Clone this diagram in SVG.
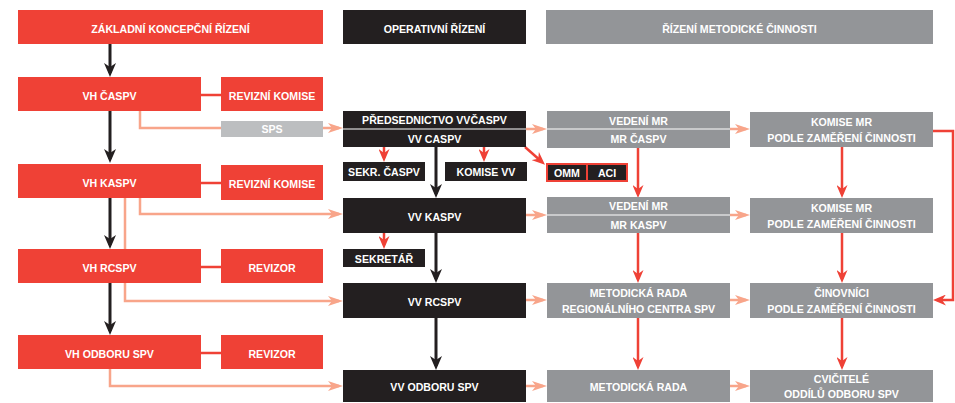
<svg xmlns="http://www.w3.org/2000/svg" width="955" height="403" viewBox="0 0 955 403">
<style>
  .r{fill:#ef4136}
  .k{fill:#231f20}
  .g{fill:#939598}
  .lg{fill:#bcbec0}
  text{font-family:"Liberation Sans",Arial,sans-serif;font-weight:bold;font-size:10.6px;fill:#fff;text-anchor:middle}
  .ck{fill:none;stroke:#231f20;stroke-width:3}
  .cr{fill:none;stroke:#ef4136;stroke-width:2.5}
  .cs{fill:none;stroke:#f8a58a;stroke-width:2.5}
  .om{fill:#231f20;stroke:#ef4136;stroke-width:2}
</style>
<defs>
  <marker id="ak" markerUnits="userSpaceOnUse" markerWidth="14" markerHeight="12" refX="10" refY="6" orient="auto"><path d="M0,0 L14,6 L0,12 L4,6 z" fill="#231f20"/></marker>
  <marker id="ar" markerUnits="userSpaceOnUse" markerWidth="13" markerHeight="11" refX="9" refY="5.5" orient="auto"><path d="M0,0 L13,5.5 L0,11 L4,5.5 z" fill="#ef4136"/></marker>
  <marker id="as" markerUnits="userSpaceOnUse" markerWidth="15" markerHeight="10" refX="11" refY="5" orient="auto"><path d="M0,0 L15,5 L0,10 L4,5 z" fill="#f8a58a"/></marker>
</defs>

<g id="connectors">
  <!-- black vertical, column 1 -->
  <path class="ck" d="M110,44 V73" marker-end="url(#ak)"/>
  <path class="ck" d="M110,111 V159" marker-end="url(#ak)"/>
  <path class="ck" d="M110,198 V245" marker-end="url(#ak)"/>
  <path class="ck" d="M110,283 V331" marker-end="url(#ak)"/>
  <!-- black vertical, column 2 -->
  <path class="ck" d="M436,147 V194" marker-end="url(#ak)"/>
  <path class="ck" d="M436,233 V279" marker-end="url(#ak)"/>
  <path class="ck" d="M436,318 V366" marker-end="url(#ak)"/>
  <!-- red links to revision boxes -->
  <path class="cr" d="M201,95 H221"/>
  <path class="cr" d="M201,183 H221"/>
  <path class="cr" d="M201,267 H221"/>
  <path class="cr" d="M201,353 H221"/>
  <!-- red short arrows -->
  <path class="cr" d="M384,147 V158" marker-end="url(#ar)"/>
  <path class="cr" d="M484,147 V158" marker-end="url(#ar)"/>
  <path class="cr" d="M384,233 V245" marker-end="url(#ar)"/>
  <path class="cr" d="M525,147 L542,162" marker-end="url(#ar)"/>
  <!-- red vertical, column 3 and 4 -->
  <path class="cr" d="M638,148 V194" marker-end="url(#ar)"/>
  <path class="cr" d="M638,233 V279" marker-end="url(#ar)"/>
  <path class="cr" d="M638,318 V366" marker-end="url(#ar)"/>
  <path class="cr" d="M842,147 V194" marker-end="url(#ar)"/>
  <path class="cr" d="M842,233 V279" marker-end="url(#ar)"/>
  <path class="cr" d="M842,318 V366" marker-end="url(#ar)"/>
  <path class="cr" d="M933,131 H953 V300 H937" marker-end="url(#ar)"/>
  <!-- salmon links -->
  <path class="cs" d="M140,111 V128 H339" marker-end="url(#as)"/>
  <path class="cs" d="M140,198 V214 H339" marker-end="url(#as)"/>
  <path class="cs" d="M125,198 V301 H339" marker-end="url(#as)"/>
  <path class="cs" d="M110,369 V386 H339" marker-end="url(#as)"/>
  <path class="cs" d="M526,129 H543" marker-end="url(#as)"/>
  <path class="cs" d="M526,215 H543" marker-end="url(#as)"/>
  <path class="cs" d="M526,300 H543" marker-end="url(#as)"/>
  <path class="cs" d="M526,386 H543" marker-end="url(#as)"/>
  <path class="cs" d="M730,129 H746" marker-end="url(#as)"/>
  <path class="cs" d="M730,215 H746" marker-end="url(#as)"/>
  <path class="cs" d="M730,300 H746" marker-end="url(#as)"/>
  <path class="cs" d="M730,386 H746" marker-end="url(#as)"/>
</g>

<!-- headers -->
<g id="h-zakladni"><rect class="r" x="18" y="10" width="305" height="34"/><text x="170.5" y="33">ZÁKLADNÍ KONCEPČNÍ ŘÍZENÍ</text></g>
<g id="h-operativni"><rect class="k" x="343" y="10" width="183" height="34"/><text x="434.5" y="33">OPERATIVNÍ ŘÍZENÍ</text></g>
<g id="h-metodicke"><rect class="g" x="546" y="10" width="387" height="34"/><text x="739.5" y="33">ŘÍZENÍ METODICKÉ ČINNOSTI</text></g>

<!-- column 1 -->
<g id="vh-caspv"><rect class="r" x="18" y="77" width="183" height="34"/><text x="109.5" y="100">VH ČASPV</text></g>
<g id="rk-1"><rect class="r" x="221" y="77" width="102" height="34"/><text x="272" y="100">REVIZNÍ KOMISE</text></g>
<g id="sps"><rect class="lg" x="221" y="121" width="102" height="16"/><text x="272" y="133">SPS</text></g>
<g id="vh-kaspv"><rect class="r" x="18" y="164" width="183" height="34"/><text x="109.5" y="187">VH KASPV</text></g>
<g id="rk-2"><rect class="r" x="221" y="165" width="102" height="35"/><text x="272" y="188">REVIZNÍ KOMISE</text></g>
<g id="vh-rcspv"><rect class="r" x="18" y="249" width="183" height="34"/><text x="109.5" y="272">VH RCSPV</text></g>
<g id="revizor-1"><rect class="r" x="221" y="249" width="102" height="34"/><text x="272" y="272">REVIZOR</text></g>
<g id="vh-odboru"><rect class="r" x="18" y="335" width="183" height="34"/><text x="109.5" y="358">VH ODBORU SPV</text></g>
<g id="revizor-2"><rect class="r" x="221" y="335" width="102" height="34"/><text x="272" y="358">REVIZOR</text></g>

<!-- column 2 -->
<g id="vv-caspv"><rect class="k" x="343" y="111" width="183" height="36"/><line x1="343" y1="129" x2="526" y2="129" stroke="#fff" stroke-width="1"/><text x="434.5" y="124">PŘEDSEDNICTVO VVČASPV</text><text x="434.5" y="143">VV CASPV</text></g>
<g id="sekr-caspv"><rect class="k" x="343" y="162" width="82" height="19"/><text x="384" y="176">SEKR. ČASPV</text></g>
<g id="komise-vv"><rect class="k" x="445" y="162" width="82" height="19"/><text x="486" y="176">KOMISE VV</text></g>
<g id="omm-aci"><rect class="om" x="547" y="164" width="40" height="17"/><rect class="om" x="587" y="164" width="40" height="17"/><text x="567" y="176.5">OMM</text><text x="607" y="176.5">ACI</text></g>
<g id="vv-kaspv"><rect class="k" x="343" y="198" width="183" height="35"/><text x="434.5" y="221">VV KASPV</text></g>
<g id="sekretar"><rect class="k" x="343" y="249" width="82" height="18"/><text x="384" y="262.5">SEKRETÁŘ</text></g>
<g id="vv-rcspv"><rect class="k" x="343" y="283" width="183" height="35"/><text x="434.5" y="306">VV RCSPV</text></g>
<g id="vv-odboru"><rect class="k" x="343" y="370" width="183" height="32"/><text x="434.5" y="391">VV ODBORU SPV</text></g>

<!-- column 3 -->
<g id="mr-caspv"><rect class="g" x="547" y="111" width="183" height="37"/><line x1="547" y1="129" x2="730" y2="129" stroke="#fff" stroke-width="1"/><text x="638.5" y="124.5">VEDENÍ MR</text><text x="638.5" y="143">MR ČASPV</text></g>
<g id="mr-kaspv"><rect class="g" x="547" y="197" width="183" height="36"/><line x1="547" y1="215" x2="730" y2="215" stroke="#fff" stroke-width="1"/><text x="638.5" y="210">VEDENÍ MR</text><text x="638.5" y="229">MR KASPV</text></g>
<g id="mr-rc"><rect class="g" x="547" y="283" width="183" height="35"/><text x="638.5" y="297">METODICKÁ RADA</text><text x="638.5" y="313">REGIONÁLNÍHO CENTRA SPV</text></g>
<g id="mr-odboru"><rect class="g" x="547" y="370" width="183" height="32"/><text x="638.5" y="391">METODICKÁ RADA</text></g>

<!-- column 4 -->
<g id="komise-mr-1"><rect class="g" x="750" y="112" width="183" height="35"/><text x="841.5" y="125.5">KOMISE MR</text><text x="841.5" y="141.5">PODLE ZAMĚŘENÍ ČINNOSTI</text></g>
<g id="komise-mr-2"><rect class="g" x="750" y="198" width="183" height="35"/><text x="841.5" y="211.5">KOMISE MR</text><text x="841.5" y="227.5">PODLE ZAMĚŘENÍ ČINNOSTI</text></g>
<g id="cinovnici"><rect class="g" x="750" y="283" width="183" height="35"/><text x="841.5" y="297">ČINOVNÍCI</text><text x="841.5" y="313">PODLE ZAMĚŘENÍ ČINNOSTI</text></g>
<g id="cvicitele"><rect class="g" x="750" y="370" width="183" height="32"/><text x="841.5" y="383">CVIČITELÉ</text><text x="841.5" y="398">ODDÍLŮ ODBORU SPV</text></g>
</svg>
